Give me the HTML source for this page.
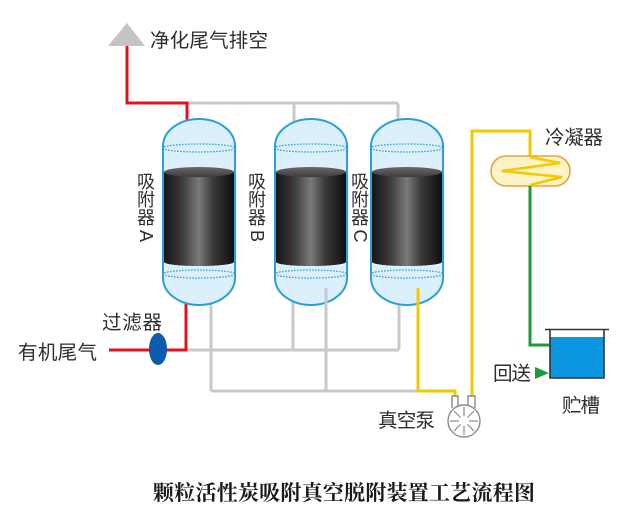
<!DOCTYPE html>
<html><head><meta charset="utf-8"><style>
html,body{margin:0;padding:0;background:#fff;}
svg{display:block;}
text{font-family:"Liberation Sans","Noto Sans CJK SC",sans-serif;fill:#2e2e2e;}
.t{font-size:19.5px;}
.v{font-size:18px;}
</style></head><body>
<svg width="636" height="514" viewBox="0 0 636 514" xmlns="http://www.w3.org/2000/svg">
<defs>
<linearGradient id="cyl" x1="0" x2="1" y1="0" y2="0">
<stop offset="0" stop-color="#151515"/>
<stop offset="0.25" stop-color="#3a3a3a"/>
<stop offset="0.5" stop-color="#7a7a7a"/>
<stop offset="0.7" stop-color="#3a3a3a"/>
<stop offset="1" stop-color="#0e0e0e"/>
</linearGradient>
<linearGradient id="cyltop" x1="0" x2="0" y1="0" y2="1">
<stop offset="0" stop-color="#6a6a6a"/>
<stop offset="1" stop-color="#3c3c3c"/>
</linearGradient>
</defs>

<!-- grey pipes -->
<g stroke="#c9c9c9" stroke-width="3" fill="none">
<polyline points="187,103 398,103"/>
<line x1="294" y1="103" x2="294" y2="130"/>
<line x1="398" y1="103" x2="398" y2="130"/>
<line x1="186" y1="350" x2="399" y2="350"/>
<line x1="293" y1="295" x2="293" y2="350"/>
<line x1="399" y1="295" x2="399" y2="350"/>
<line x1="211" y1="295" x2="211" y2="391"/>
<polyline points="211,391 418,391"/>
</g>

<!-- red pipes -->
<g stroke="#e0141e" stroke-width="3" fill="none">
<polyline points="127,30 127,103 187,103 187,130"/>
<polyline points="186,295 186,350 109,350"/>
</g>
<!-- exhaust triangle -->
<polygon points="127,23 145,46 108,46" fill="#c4c4c4"/>

<!-- vessels -->
<g id="vessels">
<g>
<path d="M163,146 A36,27 0 0 1 235,146 L235,278 A36,27 0 0 1 163,278 Z" fill="#dcf0fb" stroke="#2a9fd8" stroke-width="2"/>
<ellipse cx="199" cy="148" rx="36" ry="4" fill="none" stroke="#2a9fd8" stroke-width="1.3" stroke-dasharray="1.5 1.5"/>
<ellipse cx="199" cy="274" rx="36" ry="4" fill="none" stroke="#2a9fd8" stroke-width="1.3" stroke-dasharray="1.5 1.5"/>
<path d="M164,172 L234,172 L234,262 A35,4 0 0 1 164,262 Z" fill="url(#cyl)"/>
<ellipse cx="199" cy="172" rx="35" ry="5" fill="url(#cyltop)"/>
</g>
<g>
<path d="M275,146 A36,27 0 0 1 347,146 L347,278 A36,27 0 0 1 275,278 Z" fill="#dcf0fb" stroke="#2a9fd8" stroke-width="2"/>
<ellipse cx="311" cy="148" rx="36" ry="4" fill="none" stroke="#2a9fd8" stroke-width="1.3" stroke-dasharray="1.5 1.5"/>
<ellipse cx="311" cy="274" rx="36" ry="4" fill="none" stroke="#2a9fd8" stroke-width="1.3" stroke-dasharray="1.5 1.5"/>
<path d="M276,172 L346,172 L346,262 A35,4 0 0 1 276,262 Z" fill="url(#cyl)"/>
<ellipse cx="311" cy="172" rx="35" ry="5" fill="url(#cyltop)"/>
</g>
<g>
<path d="M371,146 A36,27 0 0 1 443,146 L443,278 A36,27 0 0 1 371,278 Z" fill="#dcf0fb" stroke="#2a9fd8" stroke-width="2"/>
<ellipse cx="407" cy="148" rx="36" ry="4" fill="none" stroke="#2a9fd8" stroke-width="1.3" stroke-dasharray="1.5 1.5"/>
<ellipse cx="407" cy="274" rx="36" ry="4" fill="none" stroke="#2a9fd8" stroke-width="1.3" stroke-dasharray="1.5 1.5"/>
<path d="M372,172 L442,172 L442,262 A35,4 0 0 1 372,262 Z" fill="url(#cyl)"/>
<ellipse cx="407" cy="172" rx="35" ry="5" fill="url(#cyltop)"/>
</g>
</g>

<!-- grey pipe into vessel B interior -->
<line x1="326" y1="288" x2="326" y2="391" stroke="#c9c9c9" stroke-width="3"/>

<!-- yellow pipes -->
<g stroke="#f5c800" stroke-width="3" fill="none">
<polyline points="418,288 418,391 455,391 455,398"/>
<polyline points="472,398 472,131 530,131 530,158"/>
</g>

<!-- filter -->
<ellipse cx="158" cy="349" rx="9" ry="16" fill="#0a5cad"/>

<!-- pump -->
<g stroke="#8a8a8a" stroke-width="1.4" fill="#fff">
<path d="M452,408 L452,396 L458,396 L458,408"/>
<path d="M468,408 L468,396 L475,396 L475,408"/>
<circle cx="464" cy="421" r="16"/>
</g>
<g stroke="#8a8a8a" stroke-width="1.2">
<line x1="469" y1="421" x2="478" y2="421"/>
<line x1="459" y1="421" x2="450" y2="421"/>
<line x1="464" y1="416" x2="464" y2="407"/>
<line x1="464" y1="426" x2="464" y2="435"/>
<line x1="467.5" y1="417.5" x2="474" y2="411"/>
<line x1="460.5" y1="424.5" x2="454" y2="431"/>
<line x1="460.5" y1="417.5" x2="454" y2="411"/>
<line x1="467.5" y1="424.5" x2="474" y2="431"/>
</g>

<!-- condenser -->
<rect x="491" y="156" width="79" height="30" rx="15" ry="15" fill="#fdf3c6" stroke="#e8a040" stroke-width="1.6"/>
<polyline points="530,157 560,163 502,171 562,177 530,185" fill="none" stroke="#f5c800" stroke-width="2.5"/>

<!-- green pipe -->
<polyline points="530,186 530,345 550,345" fill="none" stroke="#1c9a3c" stroke-width="3"/>
<polygon points="535,367 549,373 535,379" fill="#1c9a3c"/>

<!-- tank -->
<rect x="550" y="337" width="54" height="41" fill="#0a96e0"/>
<path d="M550,330 L550,378 L604,378 L604,330" fill="none" stroke="#333" stroke-width="1.6"/>
<line x1="545" y1="329.5" x2="609" y2="329.5" stroke="#333" stroke-width="1.6"/>

<!-- labels -->
<text class="t" x="150" y="47" textLength="118">净化尾气排空</text>
<text class="t" x="102" y="329" textLength="60">过滤器</text>
<text class="t" x="18" y="359" textLength="79">有机尾气</text>
<text class="t" x="378" y="427" textLength="57">真空泵</text>
<text class="t" x="545" y="144" textLength="58">冷凝器</text>
<text class="t" x="493" y="380" textLength="38">回送</text>
<text class="t" x="562" y="412" textLength="38">贮槽</text>

<!-- vertical labels -->
<g class="v" text-anchor="middle">
<text class="v" x="146" y="188">吸</text>
<text class="v" x="146" y="206">附</text>
<text class="v" x="146" y="224">器</text>
<text class="v" transform="translate(146,236) rotate(90)" dominant-baseline="central">A</text>
<text class="v" x="257" y="188">吸</text>
<text class="v" x="257" y="206">附</text>
<text class="v" x="257" y="224">器</text>
<text class="v" transform="translate(257,236) rotate(90)" dominant-baseline="central">B</text>
<text class="v" x="360" y="188">吸</text>
<text class="v" x="360" y="206">附</text>
<text class="v" x="360" y="224">器</text>
<text class="v" transform="translate(360,236) rotate(90)" dominant-baseline="central">C</text>
</g>

<!-- title -->
<text x="153" y="500" textLength="382" style="font-family:'Liberation Serif','Noto Serif CJK SC',serif;font-weight:bold;font-size:21px;fill:#1a1a1a;">颗粒活性炭吸附真空脱附装置工艺流程图</text>
</svg>
</body></html>
